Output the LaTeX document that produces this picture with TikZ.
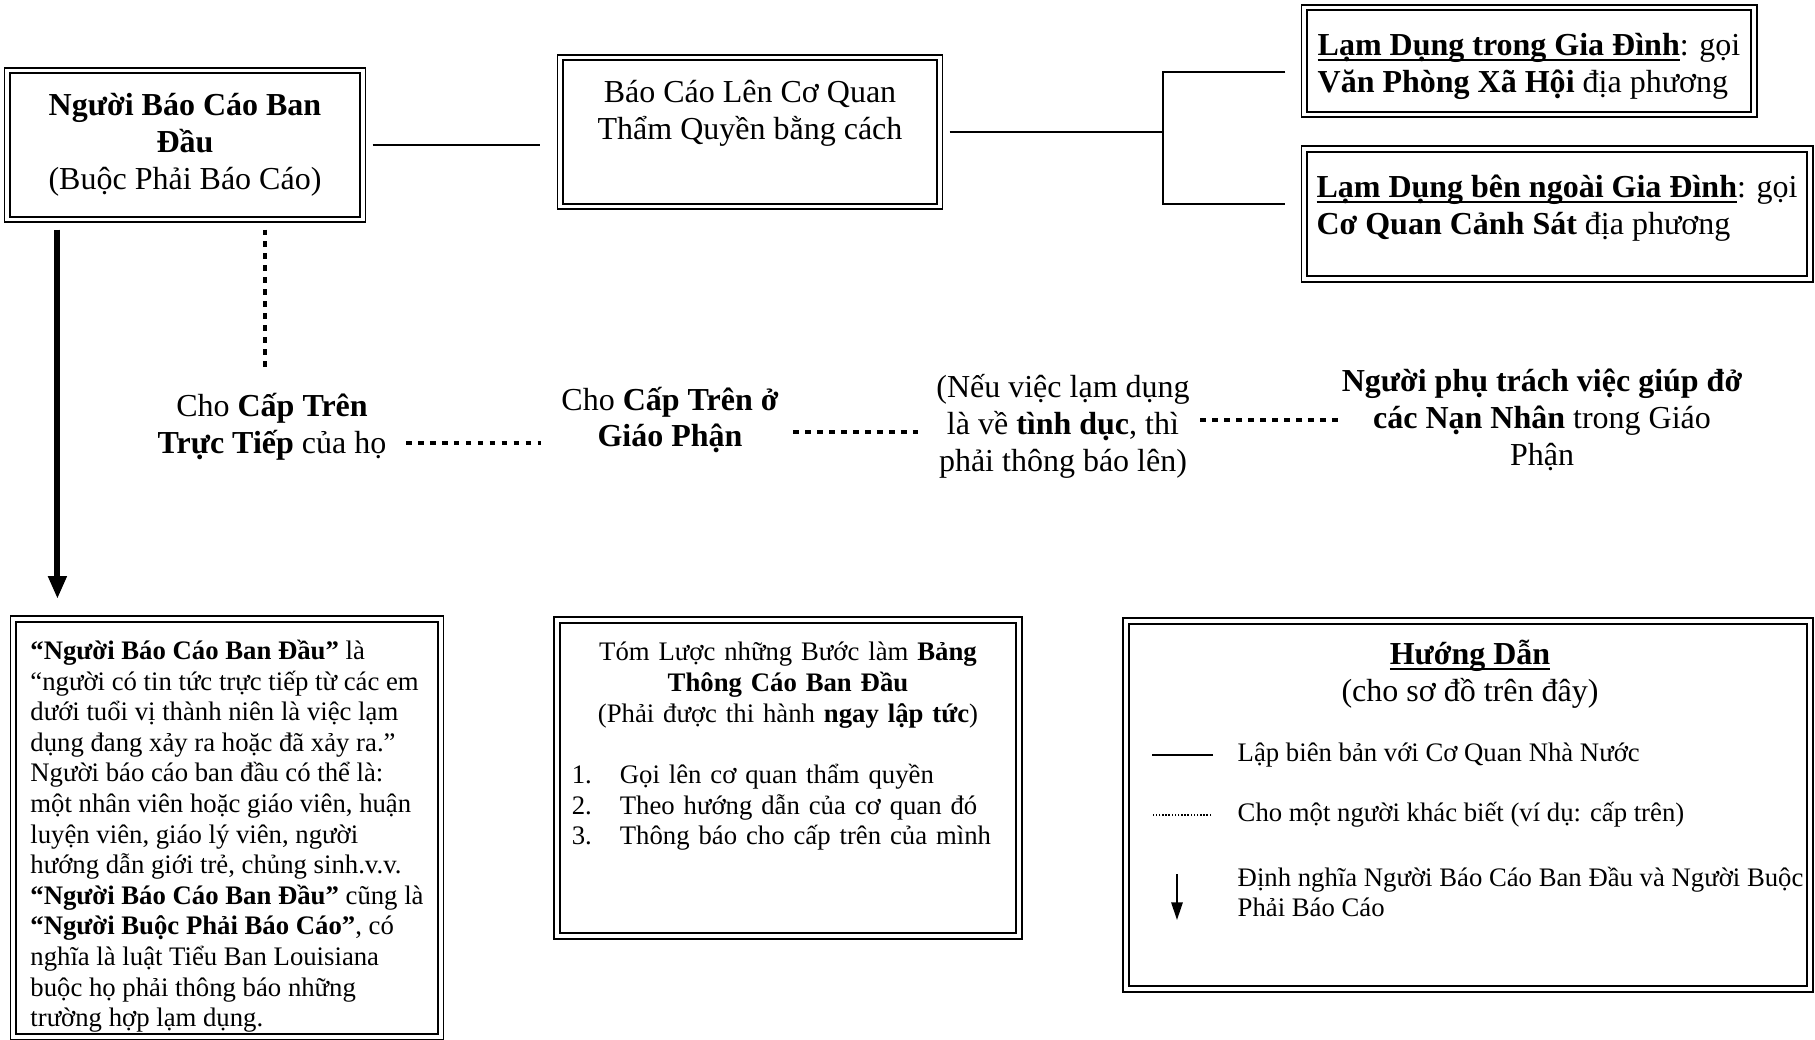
\documentclass[tikz,border=0pt]{standalone}
\usepackage{fontspec}
\setmainfont{Liberation Serif}
\usetikzlibrary{arrows.meta,calc}
\newcommand\ulbar[1]{\setbox0\hbox{#1}\rlap{\rule[-1.6pt]{\wd0}{0.6pt}}\box0}

\begin{document}
\begin{tikzpicture}[x=0.01cm,y=-0.01cm,
    box/.style={draw,double,double distance=1.1pt,line width=0.55pt,inner sep=0pt},
    lbl/.style={inner sep=0pt,align=center,font=\fontsize{9.1}{10.5}\selectfont},
    small/.style={inner sep=0pt,font=\fontsize{7.6}{8.7}\selectfont},
    solidline/.style={line width=0.6pt},
    dotline/.style={line width=1.2pt,dash pattern=on 1.6pt off 1.8pt},
    thindot/.style={line width=0.4pt,dash pattern=on 0.4pt off 0.5pt},
    defarrow/.style={line width=1.7pt,-{Triangle[length=6.5pt,width=5pt]}}]
    \fill[white,use as bounding box] (0,0) rectangle (1815,1040);

    \node[box,lbl,minimum width=3.55cm,minimum height=1.49cm] (rep) at (185,145)
        {\textbf{Người Báo Cáo Ban}\\\textbf{Đầu}\\(Buộc Phải Báo Cáo)};
    \node[box,lbl,minimum width=3.79cm,minimum height=1.49cm] (auth) at (750,132)
        {Báo Cáo Lên Cơ Quan\\Thẩm Quyền bằng cách\\\rule[-2pt]{0pt}{2pt}};
    \node[box,lbl,align=left,minimum width=4.49cm,minimum height=1.07cm] (fam) at (1529,61)
        {\rule{0pt}{9.3pt}\textbf{\ulbar{Lạm Dụng trong Gia Đình}}: gọi\\\textbf{Văn Phòng Xã Hội} địa phương};
    \node[box,lbl,align=left,minimum width=5.05cm,minimum height=1.30cm] (out) at (1557,214)
        {\rule{0pt}{11.5pt}\textbf{\ulbar{Lạm Dụng bên ngoài Gia Đình}}: gọi\\\textbf{Cơ Quan Cảnh Sát} địa phương\\~};

    \node[lbl] (sup1) at (272,427) {Cho \textbf{Cấp Trên}\\\textbf{Trực Tiếp} của họ};
    \node[lbl] (sup2) at (670,420) {Cho \textbf{Cấp Trên ở}\\\textbf{Giáo Phận}};
    \node[lbl] (note) at (1063,426) {(Nếu việc lạm dụng\\là về \textbf{tình dục}, thì\\phải thông báo lên)};
    \node[lbl] (vict) at (1542,420) {\textbf{Người phụ trách việc giúp đở}\\\textbf{các Nạn Nhân} trong Giáo\\Phận};

    \node[box,small,align=left,minimum width=4.27cm,minimum height=4.18cm] (defn) at (227,828)
        {\rule{0pt}{10.2pt}\textbf{“Người Báo Cáo Ban Đầu”} là\\
        “người có tin tức trực tiếp từ các em\\
        dưới tuổi vị thành niên là việc lạm\\
        dụng đang xảy ra hoặc đã xảy ra.”\\
        Người báo cáo ban đầu có thể là:\\
        một nhân viên hoặc giáo viên, huận\\
        luyện viên, giáo lý viên, người\\
        hướng dẫn giới trẻ, chủng sinh.v.v.\\
        \textbf{“Người Báo Cáo Ban Đầu”} cũng là\\
        \textbf{“Người Buộc Phải Báo Cáo”}, có\\
        nghĩa là luật Tiểu Ban Louisiana\\
        buộc họ phải thông báo những\\
        trường hợp lạm dụng.};
    \node[box,small,minimum width=4.62cm,minimum height=3.16cm,text width=4.32cm] (steps) at (788,778)
        {{\centering Tóm Lược những Bước làm \textbf{Bảng}\\\textbf{Thông Cáo Ban Đầu}\\(Phải được thi hành \textbf{ngay lập tức})\par}
        \vspace{8.7pt}
        \noindent\begin{tabular}{@{}p{0.48cm}@{}l@{}}
            1.&Gọi lên cơ quan thẩm quyền\\
            2.&Theo hướng dẫn của cơ quan đó\\
            3.&Thông báo cho cấp trên của mình
        \end{tabular}
        \vspace*{17pt}};
    \node[box,minimum width=6.83cm,minimum height=3.68cm] (legend) at (1468,805) {};
    \node[lbl] (legtitle) at (1470,674) {\textbf{\ulbar{Hướng Dẫn}}\\(cho sơ đồ trên đây)};
    \node[small,anchor=west] (leg1) at (1237,755) {Lập biên bản với Cơ Quan Nhà Nước};
    \node[small,anchor=west] (leg2) at (1237,815) {Cho một người khác biết (ví dụ: cấp trên)};
    \node[small,anchor=west,align=left] (leg3) at (1237,892) {Định nghĩa Người Báo Cáo Ban Đầu và Người Buộc\\Phải Báo Cáo};

    \coordinate (fork) at (1163,132);
    \draw[solidline] ($(rep.east)+(9,0)$) -- ($(rep.east -| auth.west)+(-19,0)$);
    \draw[solidline] ($(auth.east)+(9,0)$) -- (fork);
    \draw[solidline] ($(fam.west)+(-18,11)$) -| (fork) |- ($(out.west)+(-18,-10)$);
    \draw[defarrow] ($(rep.south west)+(51,9)$) -- ($(rep.south west |- defn.north)+(51,-19)$);
    \draw[dotline] ($(rep.south)+(80,9)$) -- ($(sup1.north)+(-7,-26)$);
    \draw[dotline] ($(sup1.east)+(19,16)$) -- ($(sup1.east -| sup2.west)+(-20,16)$);
    \draw[dotline] ($(sup2.east)+(14,12)$) -- ($(sup2.east -| note.west)+(-13,12)$);
    \draw[dotline] ($(note.east)+(10,-6)$) -- ($(note.east -| vict.west)+(-1,-6)$);

    \draw[solidline] ($(leg1.west)+(-24,0)$) -- ($(leg1.west)+(-85,0)$);
    \draw[thindot] ($(leg2.west)+(-26,0)$) -- ($(leg2.west)+(-85,0)$);
    \draw[solidline,-{Triangle[length=5pt,width=3.2pt]}] ($(leg3.west)+(-60,-18)$) -- ($(leg3.west)+(-60,28)$);
\end{tikzpicture}
\end{document}
